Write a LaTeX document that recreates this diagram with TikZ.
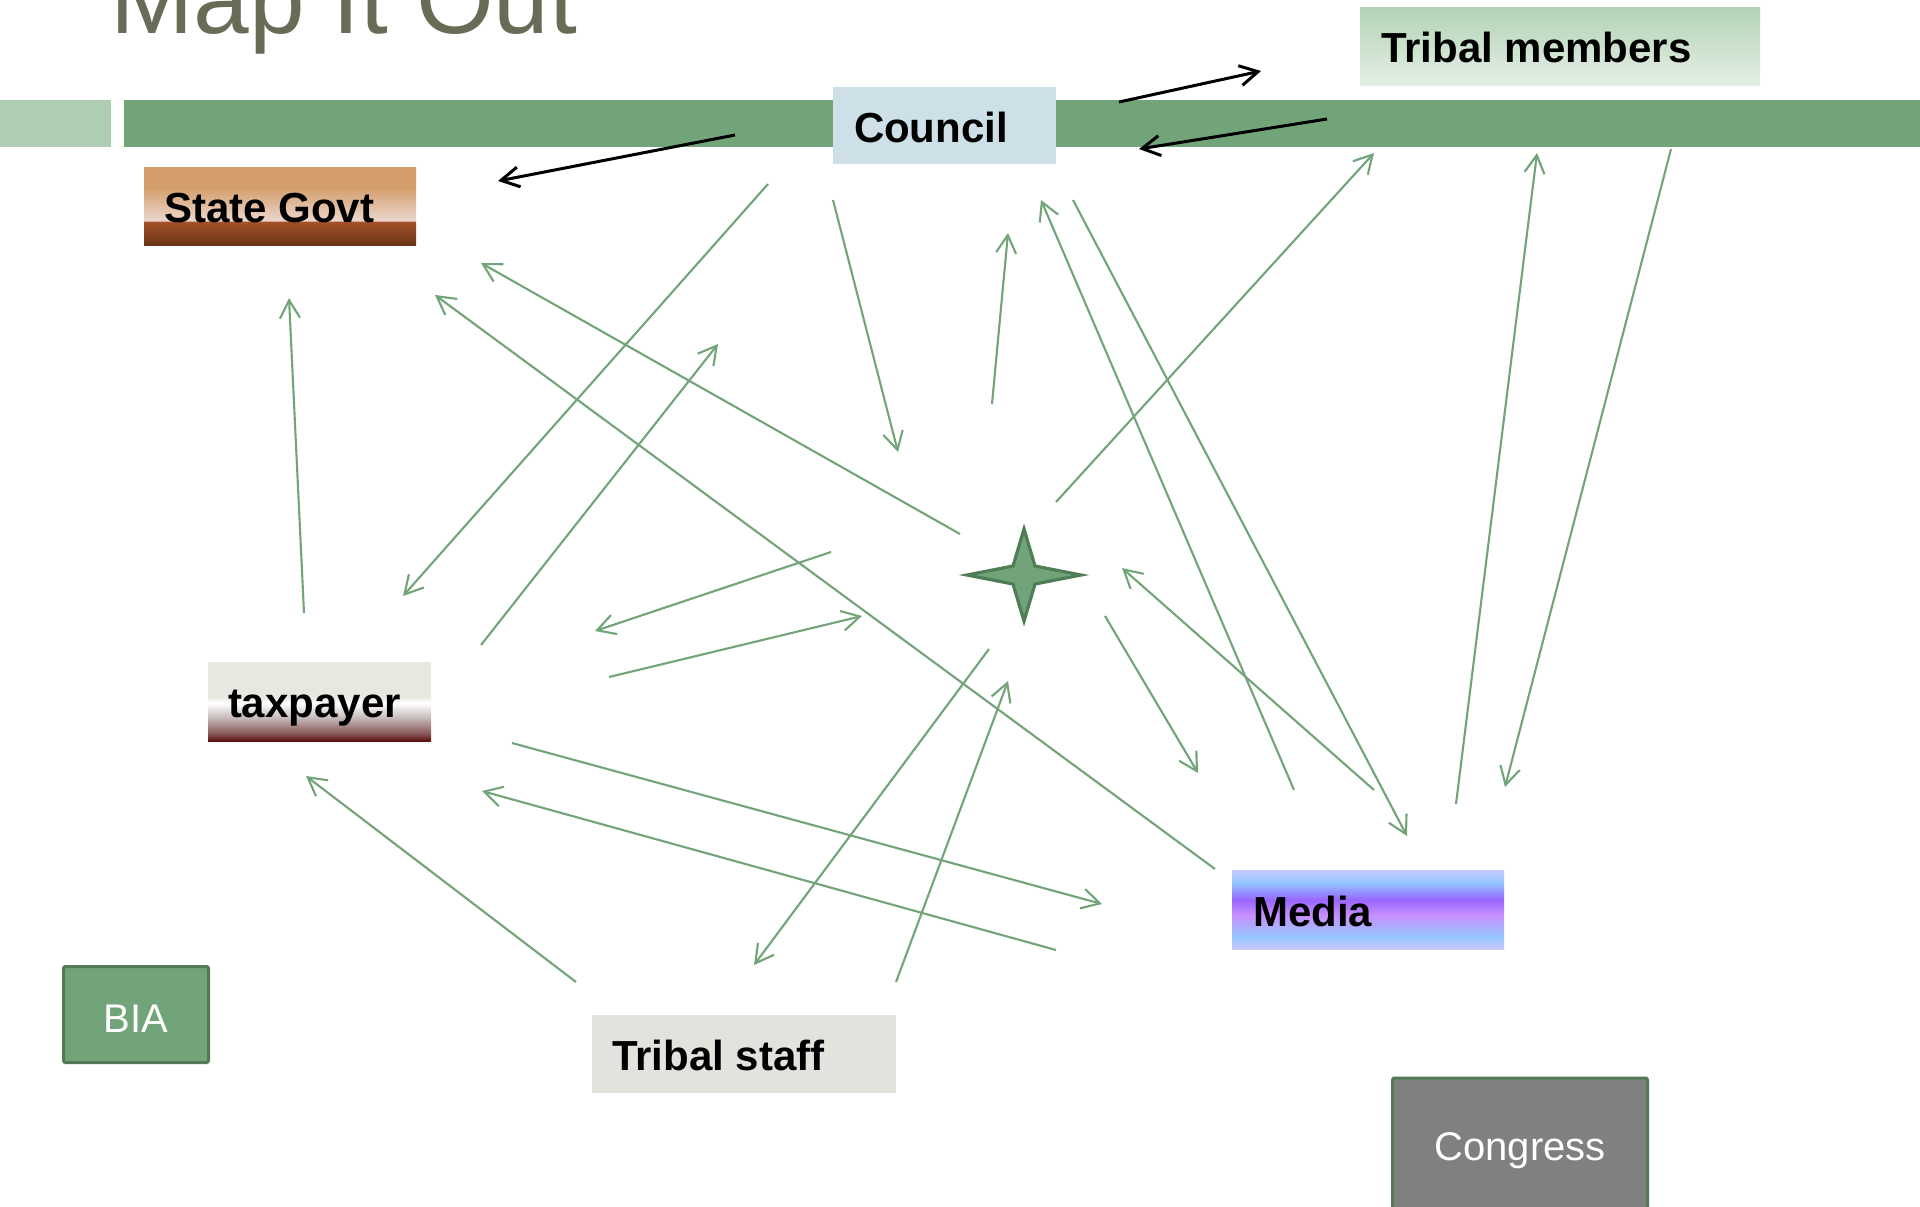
\documentclass[tikz,border=0pt]{standalone}
\usepackage{fontspec}
\setmainfont{Liberation Sans}
\usetikzlibrary{arrows.meta,calc}
\definecolor{band}{HTML}{72A479}
\definecolor{bandlight}{HTML}{AFCDB2}
\definecolor{titlec}{HTML}{686B55}
\definecolor{councilc}{HTML}{CDE0E8}
\definecolor{staffc}{HTML}{E2E3DD}
\definecolor{borderc}{HTML}{537A58}
\definecolor{starb}{HTML}{4F7D55}
\definecolor{congc}{HTML}{808080}
\definecolor{sgA}{HTML}{D39E6C}
\definecolor{sgB}{HTML}{ECD6CC}
\definecolor{sgC}{HTML}{A4522A}
\definecolor{sgD}{HTML}{6B3316}
\definecolor{tmA}{HTML}{B2D3B5}
\definecolor{tmB}{HTML}{E5EFE5}
\definecolor{tpA}{HTML}{E8E8E0}
\definecolor{tpB}{HTML}{FFFFFF}
\definecolor{tpC}{HTML}{C8BCBC}
\definecolor{tpD}{HTML}{8A5A5A}
\definecolor{tpE}{HTML}{5A1010}
\definecolor{mdA}{HTML}{C8C8FF}
\definecolor{mdB}{HTML}{94C8FF}
\definecolor{mdC}{HTML}{9966FF}
\definecolor{mdD}{HTML}{C890FF}
\pgfdeclareverticalshading{stateshade}{100bp}{color(0bp)=(sgD); color(25bp)=(sgD); color(40bp)=(sgC); color(40.6bp)=(sgB); color(62bp)=(sgA); color(100bp)=(sgA)}
\pgfdeclareverticalshading{tribeshade}{100bp}{color(0bp)=(tmB); color(25bp)=(tmB); color(75bp)=(tmA); color(100bp)=(tmA)}
\pgfdeclareverticalshading{taxshade}{100bp}{color(0bp)=(tpE); color(25bp)=(tpE); color(30bp)=(tpD); color(40bp)=(tpC); color(49bp)=(tpB); color(53bp)=(tpA); color(100bp)=(tpA)}
\pgfdeclareverticalshading{mediashade}{100bp}{color(0bp)=(mdA); color(25bp)=(mdA); color(32.5bp)=(mdB); color(46.5bp)=(mdD); color(56bp)=(mdC); color(67.5bp)=(mdB); color(75bp)=(mdA); color(100bp)=(mdA)}
\tikzset{
  box/.style={rectangle, inner sep=0pt, outer sep=0pt, draw=none},
  lbl/.style={inner sep=0pt, outer sep=0pt, anchor=base west, font=\fontsize{21pt}{25pt}\selectfont\bfseries, text=black},
  wlbl/.style={inner sep=0pt, outer sep=0pt, anchor=base, font=\fontsize{20pt}{24pt}\selectfont, text=white},
  garrow/.style={draw=band, line width=1.05pt, -{Straight Barb[length=9pt,width=10pt]}},
  karrow/.style={draw=black, line width=1.5pt, -{Straight Barb[length=9pt,width=10pt]}}
}
\begin{document}
\begin{tikzpicture}[x=0.5pt,y=-0.5pt]
\clip (0,0) rectangle (1920,1206);
\fill[white] (0,0) rectangle (1920,1206);
% title
\node[inner sep=0pt, anchor=base west, text=titlec, font=\fontsize{50pt}{56pt}\selectfont] (title) at (110,33) {Map It Out};
% band
\fill[bandlight] (0,100) rectangle (111,147);
\fill[band] (124,100) rectangle (1920,147);
% boxes
\node[box, fill=councilc, minimum width=111.5pt, minimum height=38.5pt] (council) at (944.5,125.5) {};
\node[box, shading=tribeshade, minimum width=200pt, minimum height=39pt] (tribal) at (1560,46) {};
\node[box, shading=stateshade, minimum width=136pt, minimum height=39pt] (state) at (280,206) {};
\node[box, shading=taxshade, minimum width=111.5pt, minimum height=39.5pt] (tax) at (319.5,701.5) {};
\node[box, shading=mediashade, minimum width=136pt, minimum height=39.5pt] (media) at (1368,909.5) {};
\node[box, fill=staffc, minimum width=152pt, minimum height=39pt] (staff) at (744,1054) {};
\node[box, fill=band, draw=borderc, line width=1.5pt, rounded corners=1pt, minimum width=72.5pt, minimum height=48pt] (bia) at (136,1014.5) {};
\node[box, fill=congc, draw=borderc, line width=1.5pt, rounded corners=1pt, minimum width=127.5pt, minimum height=90pt] (congress) at (1520,1168) {};
% labels
\node[lbl] (councilT) at (854,142) {Council};
\node[lbl] (tribalT) at (1381,62) {Tribal members};
\node[lbl] (stateT) at (164,222) {State Govt};
\node[lbl] (taxT) at (228,717) {taxpayer};
\node[lbl] (mediaT) at (1253,926) {Media};
\node[lbl] (staffT) at (612,1070) {Tribal staff};
\node[wlbl] (biaT) at (136,1032) {BIA};
\node[wlbl] (congT) at (1520,1160) {Congress};
% star
\coordinate (star) at (1024,575);
\filldraw[fill=band, draw=starb, line width=1.6pt, line join=miter]
  ($(star)+(-57,0)$) -- ($(star)+(-11,-9)$) -- ($(star)+(0,-46)$) -- ($(star)+(11,-9)$) -- ($(star)+(57,0)$) -- ($(star)+(11,9)$) -- ($(star)+(0,46)$) -- ($(star)+(-11,9)$) -- cycle;
% endpoints
\coordinate (ka1) at (1119,102); \coordinate (kb1) at (1261,71);
\coordinate (ka2) at (1327,119); \coordinate (kb2) at (1139,149);
\coordinate (ka3) at (735,135);  \coordinate (kb3) at (498,181);
\coordinate (s1) at (768,184);  \coordinate (e1) at (403,596);
\coordinate (s2) at (833,200);  \coordinate (e2) at (898,452);
\coordinate (s3) at (992,404);  \coordinate (e3) at (1008,233);
\coordinate (s4) at (960,534);  \coordinate (e4) at (481,263);
\coordinate (s5) at (1056,502); \coordinate (e5) at (1374,153);
\coordinate (s6) at (1294,790); \coordinate (e6) at (1041,200);
\coordinate (s7) at (1073,200); \coordinate (e7) at (1407,836);
\coordinate (s8) at (1456,804); \coordinate (e8) at (1537,153);
\coordinate (s9) at (1671,149); \coordinate (e9) at (1505,787);
\coordinate (s10) at (304,613); \coordinate (e10) at (289,298);
\coordinate (s11) at (481,645); \coordinate (e11) at (718,344);
\coordinate (s12) at (1215,869); \coordinate (e12) at (435,295);
\coordinate (s13) at (831,552); \coordinate (e13) at (595,631);
\coordinate (s14) at (609,677); \coordinate (e14) at (862,616);
\coordinate (s15) at (1105,616); \coordinate (e15) at (1198,773);
\coordinate (s16) at (1374,790); \coordinate (e16) at (1122,568);
\coordinate (s17) at (989,649); \coordinate (e17) at (754,965);
\coordinate (s18) at (896,982); \coordinate (e18) at (1008,681);
\coordinate (s19) at (512,743); \coordinate (e19) at (1102,904);
\coordinate (s20) at (1056,950); \coordinate (e20) at (482,791);
\coordinate (s21) at (576,982); \coordinate (e21) at (306,776);
% black arrows
\foreach \i in {1,2,3} { \draw[karrow] (ka\i) -- (kb\i); }
% green arrows
\foreach \i in {1,...,21} { \draw[garrow] (s\i) -- (e\i); }
\end{tikzpicture}
\end{document}
